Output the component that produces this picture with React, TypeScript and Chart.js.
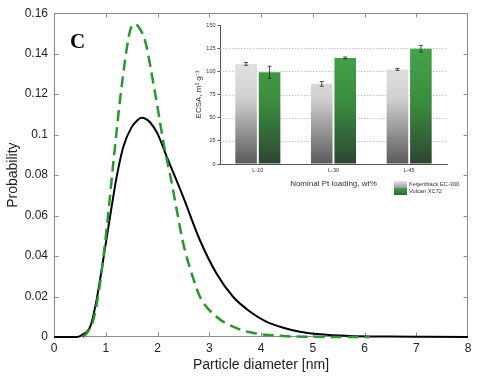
import React, { useEffect, useRef } from "react";
import { Chart, registerables } from "chart.js";

Chart.register(...registerables);

// ---- Main chart data (particle size distributions) ----
const blackDiam = [0, 0.45, 0.55, 0.7, 0.82, 0.95, 1.08, 1.21, 1.34, 1.5, 1.6, 1.69, 1.78, 1.86, 2.0, 2.18, 2.5, 2.82, 3.14, 3.46, 3.79, 4.11, 4.43, 4.75, 5.08, 5.72, 6.5, 7.2, 8];
const blackProb = [0, 0, 0.0012, 0.0051, 0.018, 0.038, 0.059, 0.079, 0.094, 0.1037, 0.1068, 0.1083, 0.1077, 0.106, 0.1005, 0.089, 0.069, 0.0478, 0.0314, 0.0199, 0.0125, 0.0075, 0.0046, 0.0026, 0.0015, 0.0005, 0.0002, 0.0001, 0];

const greenDiam = [0.55, 0.62, 0.76, 0.89, 1.02, 1.15, 1.28, 1.4, 1.47, 1.565, 1.66, 1.76, 1.95, 2.145, 2.24, 2.37, 2.5, 2.66, 2.82, 3.14, 3.46, 3.79, 4.43, 5.0, 6.1];
const greenProb = [0, 0.0015, 0.0084, 0.0265, 0.054, 0.087, 0.118, 0.1415, 0.1514, 0.1547, 0.1522, 0.1464, 0.121, 0.092, 0.0807, 0.063, 0.046, 0.0314, 0.0199, 0.01, 0.0051, 0.0023, 0.0005, 0.0001, 0];

const xTicks = [0, 1, 2, 3, 4, 5, 6, 7, 8];
const yTicks = [0, 0.02, 0.04, 0.06, 0.08, 0.1, 0.12, 0.14, 0.16];
const xTitle = "Particle diameter [nm]";
const yTitle = "Probability";
const panelLabel = "C";

// ---- Inset data (ECSA bars) ----
const insetCategories = ["L-10", "L-30", "L-45"];
const seriesLabels = ["Ketjenblack EC-300", "Vulcan XC72"];
const ketjenValues = [108, 86.5, 102];
const ketjenErrors = [1.5, 2.5, 1];
const vulcanValues = [99, 114.5, 124.5];
const vulcanErrors = [6.5, 1, 3.5];
const insetYTicks = [0, 25, 50, 75, 100, 125, 150];
const insetXTitle = "Nominal Pt loading, wt%";
const insetYTitle = "ECSA, m\u00B2 g\u207B\u00B9";

const SANS = '"Liberation Sans", Arial, Helvetica, sans-serif';

const grayStops: [number, string][] = [
  [0, "#ebebeb"],
  [0.45, "#d0d0d0"],
  [1, "#5a5a5a"],
];
const greenStops: [number, string][] = [
  [0, "#47a547"],
  [0.5, "#3a8a3e"],
  [1, "#2c4632"],
];

function barGradient(chart: any, stops: [number, string][]) {
  const area = chart.chartArea;
  const ys = chart.scales && chart.scales.y;
  if (!area || !ys) return stops[1][1];
  const g = chart.ctx.createLinearGradient(0, ys.getPixelForValue(128), 0, ys.getPixelForValue(0));
  stops.forEach(([o, c]) => g.addColorStop(o, c));
  return g;
}

const mainFrame = {
  id: "mainFrame",
  beforeDatasetsDraw(chart: any) {
    const { ctx, chartArea: a, scales } = chart;
    ctx.save();
    ctx.strokeStyle = "#8c8c8c";
    ctx.lineWidth = 1;
    const l = Math.round(a.left) + 0.5;
    const t = Math.round(a.top) + 0.5;
    const r = Math.round(a.right) - 0.5;
    const b = Math.round(a.bottom) - 0.5;
    ctx.strokeRect(l, t, r - l, b - t);
    ctx.beginPath();
    xTicks.slice(1, -1).forEach((v) => {
      const px = Math.round(scales.x.getPixelForValue(v)) + 0.5;
      ctx.moveTo(px, b);
      ctx.lineTo(px, b - 4);
      ctx.moveTo(px, t);
      ctx.lineTo(px, t + 4);
    });
    yTicks.slice(1, -1).forEach((v) => {
      const py = Math.round(scales.y.getPixelForValue(v)) + 0.5;
      ctx.moveTo(l, py);
      ctx.lineTo(l + 4, py);
      ctx.moveTo(r, py);
      ctx.lineTo(r - 4, py);
    });
    ctx.stroke();
    ctx.fillStyle = "#000";
    ctx.font = 'bold 21px "Liberation Serif", "Times New Roman", serif';
    ctx.textBaseline = "alphabetic";
    ctx.textAlign = "left";
    ctx.fillText(panelLabel, a.left + 16, a.top + 34.5);
    ctx.restore();
  },
};

const insetDecor = {
  id: "insetDecor",
  beforeDatasetsDraw(chart: any) {
    const { ctx, chartArea: a, scales } = chart;
    ctx.save();
    ctx.strokeStyle = "#b8b8b8";
    ctx.lineWidth = 0.8;
    ctx.setLineDash([1.5, 1.5]);
    ctx.beginPath();
    insetYTicks.slice(1, -1).forEach((v) => {
      const py = Math.round(scales.y.getPixelForValue(v)) + 0.5;
      ctx.moveTo(a.left, py);
      ctx.lineTo(a.right, py);
    });
    ctx.stroke();
    ctx.restore();
  },
  afterDatasetsDraw(chart: any) {
    const { ctx, scales } = chart;
    const errs = [ketjenErrors, vulcanErrors];
    ctx.save();
    ctx.strokeStyle = "#222";
    ctx.lineWidth = 0.8;
    ctx.beginPath();
    chart.data.datasets.forEach((ds: any, di: number) => {
      const meta = chart.getDatasetMeta(di);
      meta.data.forEach((bar: any, i: number) => {
        const v = ds.data[i];
        const e = errs[di][i];
        const x = bar.x;
        const y1 = scales.y.getPixelForValue(v + e);
        const y2 = scales.y.getPixelForValue(v - e);
        ctx.moveTo(x, y1);
        ctx.lineTo(x, y2);
        ctx.moveTo(x - 2, y1);
        ctx.lineTo(x + 2, y1);
        ctx.moveTo(x - 2, y2);
        ctx.lineTo(x + 2, y2);
      });
    });
    ctx.stroke();
    ctx.restore();
  },
  afterDraw(chart: any) {
    const { ctx, chartArea: a } = chart;
    const x0 = a.right - 53;
    const y0 = a.bottom + 17;
    const w = 13;
    const h = 7;
    const sw = [
      ["#e6e6e6", "#9a9a9a"],
      ["#45a245", "#2f5f35"],
    ];
    ctx.save();
    seriesLabels.forEach((label, i) => {
      const top = y0 + i * h;
      const g = ctx.createLinearGradient(0, top, 0, top + h);
      g.addColorStop(0, sw[i][0]);
      g.addColorStop(1, sw[i][1]);
      ctx.fillStyle = g;
      ctx.fillRect(x0, top, w, h);
      ctx.fillStyle = "#333";
      ctx.font = `5.7px ${SANS}`;
      ctx.textBaseline = "middle";
      ctx.textAlign = "left";
      ctx.fillText(label, x0 + w + 2, top + h / 2 + 0.3);
    });
    ctx.restore();
  },
};

export default function App() {
  const mainRef = useRef<HTMLCanvasElement | null>(null);
  const insetRef = useRef<HTMLCanvasElement | null>(null);

  useEffect(() => {
    document.body.style.margin = "0";
    if (!mainRef.current || !insetRef.current) return;

    const main = new Chart(mainRef.current, {
      type: "line",
      data: {
        datasets: [
          {
            label: "green",
            data: greenDiam.map((x, i) => ({ x, y: greenProb[i] })),
            borderColor: "#2a962e",
            borderWidth: 2.5,
            borderDash: [11, 6],
            pointRadius: 0,
            fill: false,
            cubicInterpolationMode: "monotone",
            clip: 6,
          },
          {
            label: "black",
            data: blackDiam.map((x, i) => ({ x, y: blackProb[i] })),
            borderColor: "#000000",
            borderWidth: 2,
            pointRadius: 0,
            fill: false,
            cubicInterpolationMode: "monotone",
            clip: 6,
          },
        ],
      } as any,
      options: {
        responsive: false,
        animation: false,
        devicePixelRatio: 1,
        layout: { padding: { top: 12.5, right: 12, left: 0, bottom: 0 } },
        plugins: { legend: { display: false }, tooltip: { enabled: false } },
        scales: {
          x: {
            type: "linear",
            min: 0,
            max: 8,
            grid: { display: false, drawTicks: false },
            border: { display: false },
            afterBuildTicks: (s: any) => {
              s.ticks = xTicks.map((v) => ({ value: v }));
            },
            afterFit: (s: any) => {
              s.height = 48;
            },
            ticks: {
              font: { family: SANS, size: 12 },
              color: "#222",
              padding: 4,
              maxRotation: 0,
              callback: (v: any) => String(v),
            },
            title: {
              display: true,
              text: xTitle,
              font: { family: SANS, size: 14 },
              color: "#222",
              padding: { top: 0, bottom: 11.6 },
            },
          },
          y: {
            type: "linear",
            min: 0,
            max: 0.16,
            grid: { display: false, drawTicks: false },
            border: { display: false },
            afterBuildTicks: (s: any) => {
              s.ticks = yTicks.map((v) => ({ value: v }));
            },
            afterFit: (s: any) => {
              s.width = 54;
            },
            ticks: {
              font: { family: SANS, size: 12 },
              color: "#222",
              padding: 6,
              callback: (v: any) => String(Number(Number(v).toFixed(2))),
            },
            title: {
              display: true,
              text: yTitle,
              font: { family: SANS, size: 14 },
              color: "#222",
              padding: { top: 5, bottom: 0 },
            },
          },
        },
      } as any,
      plugins: [mainFrame],
    });

    const inset = new Chart(insetRef.current, {
      type: "bar",
      data: {
        labels: insetCategories,
        datasets: [
          {
            label: seriesLabels[0],
            data: ketjenValues,
            backgroundColor: (c: any) => barGradient(c.chart, grayStops),
            borderWidth: 0,
          },
          {
            label: seriesLabels[1],
            data: vulcanValues,
            backgroundColor: (c: any) => barGradient(c.chart, greenStops),
            borderWidth: 0,
          },
        ],
      },
      options: {
        responsive: false,
        animation: false,
        devicePixelRatio: 1,
        layout: { padding: { top: 10, right: 19, left: 0, bottom: 0 } },
        plugins: { legend: { display: false }, tooltip: { enabled: false } },
        datasets: { bar: { categoryPercentage: 0.62, barPercentage: 0.92 } },
        scales: {
          x: {
            grid: { display: false, drawTicks: false },
            border: { display: true, color: "#555", width: 1 },
            afterFit: (s: any) => {
              s.height = 36;
            },
            ticks: { font: { family: SANS, size: 5.5 }, color: "#333", padding: 3 },
            title: {
              display: true,
              text: insetXTitle,
              font: { family: SANS, size: 8 },
              color: "#333",
              padding: { top: 0, bottom: 11.7 },
            },
          },
          y: {
            min: 0,
            max: 150,
            afterBuildTicks: (s: any) => {
              s.ticks = insetYTicks.map((v) => ({ value: v }));
            },
            afterFit: (s: any) => {
              s.width = 34;
            },
            grid: { display: true, drawOnChartArea: false, drawTicks: true, tickLength: 2.5, tickColor: "#555" },
            border: { display: true, color: "#555", width: 1 },
            ticks: { font: { family: SANS, size: 5.5 }, color: "#333", padding: 2 },
            title: {
              display: true,
              text: insetYTitle,
              font: { family: SANS, size: 8 },
              color: "#333",
              padding: { top: 7.7, bottom: 0 },
            },
          },
        },
      } as any,
      plugins: [insetDecor],
    });

    return () => {
      main.destroy();
      inset.destroy();
    };
  }, []);

  return (
    <div style={{ position: "relative", width: 480, height: 385, background: "#fff" }}>
      <canvas ref={mainRef} width={480} height={385} style={{ position: "absolute", left: 0, top: 0, display: "block" }} />
      <canvas ref={insetRef} width={280} height={185} style={{ position: "absolute", left: 186, top: 15, display: "block" }} />
    </div>
  );
}
